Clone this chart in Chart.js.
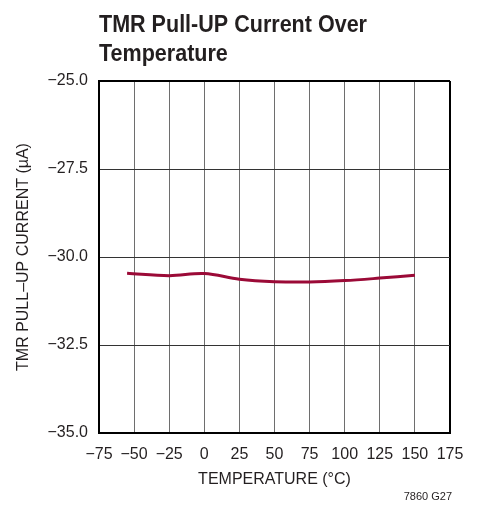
<!DOCTYPE html>
<html>
<head>
<meta charset="utf-8">
<script src="https://cdn.jsdelivr.net/npm/chart.js@4"></script>
<style>
html,body{margin:0;padding:0;background:#fff;}
#wrap{position:relative;width:480px;height:514px;}
</style>
</head>
<body>
<div id="wrap"><canvas id="c" width="480" height="514"></canvas></div>
<script>
const temperatures = [-55, -25, 0, 25, 50, 75, 100, 125, 150];
const pullUpCurrent = [-30.46, -30.53, -30.47, -30.63, -30.70, -30.71, -30.67, -30.60, -30.52];
const xTickValues = [-75, -50, -25, 0, 25, 50, 75, 100, 125, 150, 175];
const xTickLabels = ['−75', '−50', '−25', '0', '25', '50', '75', '100', '125', '150', '175'];
const yTickValues = [-35, -32.5, -30, -27.5, -25];
const yTickLabels = ['−35.0', '−32.5', '−30.0', '−27.5', '−25.0'];
const titleLines = ['TMR Pull-UP Current Over', 'Temperature'];
const xTitle = 'TEMPERATURE (°C)';
const yTitle = 'TMR PULL–UP CURRENT (µA)';
const footnote = '7860 G27';

const FONT = "'Liberation Sans', Arial, sans-serif";

const textPlugin = {
  id: 'texts',
  afterDraw(chart) {
    const ctx = chart.ctx;
    const a = chart.chartArea;
    ctx.save();
    ctx.fillStyle = '#231f20';
    ctx.font = "bold 24px " + FONT;
    ctx.textBaseline = 'alphabetic';
    ctx.textAlign = 'left';
    const w = ctx.measureText(titleLines[0]).width;
    const sx = 268 / w;
    ctx.save();
    ctx.translate(a.left, 0);
    ctx.scale(sx, 1);
    ctx.fillText(titleLines[0], 0, 32);
    ctx.fillText(titleLines[1], 0, 61);
    ctx.restore();
    ctx.font = "11px " + FONT;
    ctx.textAlign = 'right';
    ctx.fillText(footnote, a.right + 2, 500);
    ctx.restore();
  }
};

const edgeX = v => v === -75 || v === 175;
const edgeY = v => v === -25 || v === -35;

new Chart(document.getElementById('c'), {
  type: 'line',
  data: {
    datasets: [{
      data: temperatures.map((t, i) => ({x: t, y: pullUpCurrent[i]})),
      borderColor: '#9b0a37',
      borderWidth: 3,
      pointRadius: 0,
      tension: 0.35,
      fill: false
    }]
  },
  plugins: [textPlugin],
  options: {
    responsive: false,
    animation: false,
    devicePixelRatio: 1,
    layout: {padding: {top: 81, right: 30, left: 0, bottom: 25}},
    plugins: {legend: {display: false}, tooltip: {enabled: false}, title: {display: false}},
    scales: {
      x: {
        type: 'linear',
        min: -75, max: 175,
        afterBuildTicks: axis => { axis.ticks = xTickValues.map(v => ({value: v})); },
        afterFit: axis => { axis.height = 56; },
        ticks: {
          padding: 12,
          color: '#231f20',
          font: {family: FONT, size: 16},
          maxRotation: 0,
          autoSkip: false,
          callback: v => xTickLabels[xTickValues.indexOf(v)]
        },
        grid: {
          drawTicks: false,
          color: ctx => edgeX(ctx.tick && ctx.tick.value) ? '#000' : '#6e6e6e',
          lineWidth: ctx => edgeX(ctx.tick && ctx.tick.value) ? 2 : 1
        },
        border: {color: '#000', width: 2},
        title: {
          display: true, text: xTitle, color: '#231f20',
          font: {family: FONT, size: 16}, padding: {top: 4, bottom: 0}
        }
      },
      y: {
        type: 'linear',
        min: -35, max: -25,
        afterBuildTicks: axis => { axis.ticks = yTickValues.map(v => ({value: v})); },
        afterFit: axis => { axis.width = 99; },
        ticks: {
          padding: 11,
          color: '#231f20',
          font: {family: FONT, size: 16},
          callback: v => yTickLabels[yTickValues.indexOf(v)]
        },
        grid: {
          drawTicks: false,
          color: ctx => edgeY(ctx.tick && ctx.tick.value) ? '#000' : '#333',
          lineWidth: ctx => edgeY(ctx.tick && ctx.tick.value) ? 2 : 1
        },
        border: {color: '#000', width: 2},
        title: {
          display: true, text: yTitle, color: '#231f20',
          font: {family: FONT, size: 16}, padding: {top: 14, bottom: 0}
        }
      }
    }
  }
});
</script>
</body>
</html>
